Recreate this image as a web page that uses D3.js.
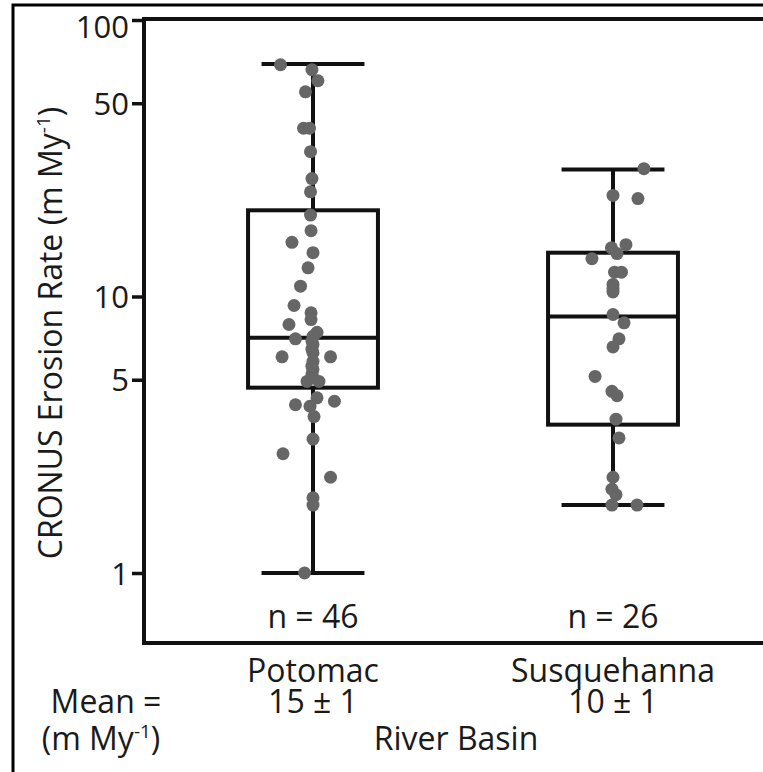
<!DOCTYPE html>
<html>
<head>
<meta charset="utf-8">
<script src="https://cdn.jsdelivr.net/npm/d3@7"></script>
<style>
  html, body { margin: 0; padding: 0; background: #ffffff; }
  svg { display: block; }
  text { font-family: "Open Sans", "Noto Sans", sans-serif; fill: #1a1a1a; }
</style>
</head>
<body>
<div id="chart"></div>
<script>
// ---- data ----
const categories = ["Potomac", "Susquehanna"];
const counts = [46, 26];
const means = [15, 10];
const meanErrors = [1, 1];
const whiskerLow = [1.0, 1.76];
const quartile1 = [4.68, 3.44];
const medians = [7.1, 8.47];
const quartile3 = [20.5, 14.4];
const whiskerHigh = [69.3, 28.8];
const yTicks = [1, 5, 10, 50, 100];

const potomacValues = [68.9, 66.1, 60.3, 55.0, 40.6, 40.6, 33.4, 26.7, 23.9, 19.7, 17.3, 15.7, 14.4, 12.7, 10.9, 9.28,
  8.73, 8.25, 7.92, 7.42, 7.03, 7.18, 6.9, 6.7, 6.45, 6.25, 6.05, 6.05, 5.83, 5.6, 5.44, 5.25, 5.08, 4.93, 4.93,
  4.30, 4.18, 4.06, 4.01, 3.68, 3.05, 2.70, 2.22, 1.87, 1.76, 1.0];
const potomacJitter = [-0.25, -0.008, 0.038, -0.058, -0.073, -0.027, -0.019, -0.008, -0.019, -0.019, -0.015, -0.162, 0, -0.038, -0.096, -0.146,
  -0.015, -0.015, -0.185, 0.031, -0.135, 0, -0.008, 0, -0.008, 0, -0.238, 0.135, 0, -0.008, 0, -0.008, 0, -0.046, 0.046,
  0.031, 0.165, -0.135, -0.023, 0.008, 0, -0.231, 0.135, 0, 0, -0.065];
const susquehannaValues = [29.0, 23.2, 22.6, 15.4, 15.0, 14.3, 13.7, 12.25, 12.25, 11.06, 10.7, 10.38, 8.61, 8.03, 7.03, 6.57,
  5.14, 4.54, 4.38, 3.60, 3.08, 2.22, 2.01, 1.92, 1.76, 1.76];
const susquehannaJitter = [0.238, 0, 0.192, 0.1, -0.012, 0.031, -0.162, 0.012, 0.065, 0, 0, 0, 0, 0.085, 0.046, 0,
  -0.138, -0.008, 0.031, 0.023, 0.046, 0, -0.008, 0.023, -0.008, 0.185];

// ---- layout ----
const W = 763, H = 772;
const plotLeft = 144, plotRight = 790, plotTop = 19, plotBottom = 643;
const svg = d3.select("#chart").append("svg").attr("width", W).attr("height", H);

svg.append("rect").attr("x", 0).attr("y", 0).attr("width", W).attr("height", H).attr("fill", "#ffffff");
// outer frame (extends beyond the picture on right and bottom)
svg.append("rect").attr("x", 13).attr("y", 5).attr("width", 900).attr("height", 900)
  .attr("fill", "none").attr("stroke", "#000").attr("stroke-width", 3);

const x = d3.scaleBand().domain(categories).range([163, 763]).padding(0);
const y = d3.scaleLog().domain([1, 100]).range([573, 20]);
const bw = x.bandwidth();
const cx = c => x(c) + bw / 2;
const boxW = bw * 0.433, capW = bw * 0.343;

// plot frame lines
const frame = svg.append("g").attr("stroke", "#111").attr("stroke-width", 4).attr("fill", "none");
frame.append("line").attr("x1", plotLeft).attr("x2", plotRight).attr("y1", plotTop).attr("y2", plotTop);
frame.append("line").attr("x1", plotLeft).attr("x2", plotLeft).attr("y1", plotTop - 2).attr("y2", plotBottom + 2);
frame.append("line").attr("x1", plotLeft - 2).attr("x2", plotRight).attr("y1", plotBottom).attr("y2", plotBottom);

// y axis ticks
const yAxis = d3.axisLeft(y).tickValues(yTicks).tickFormat(d3.format("d")).tickSize(12).tickPadding(3);
const ga = svg.append("g").attr("transform", `translate(${plotLeft},0)`).call(yAxis);
ga.select(".domain").remove();
ga.selectAll(".tick line").attr("stroke", "#111").attr("stroke-width", 3.5);
ga.selectAll(".tick text").attr("font-size", 31).attr("font-family", "Open Sans, sans-serif").attr("fill", "#1a1a1a")
  .attr("dy", d => d === 100 ? "0.55em" : "0.36em");

// y axis label
const yl = svg.append("text")
  .attr("transform", `translate(62, ${333}) rotate(-90)`)
  .attr("text-anchor", "middle").attr("font-size", 32);
yl.append("tspan").text("CRONUS Erosion Rate (m My");
yl.append("tspan").attr("font-size", 19).attr("dy", -12).text("-1");
yl.append("tspan").attr("dy", 12).text(")");

// boxes
const boxes = categories.map((c, i) => ({ c, lo: whiskerLow[i], q1: quartile1[i], med: medians[i], q3: quartile3[i], hi: whiskerHigh[i] }));
const bg = svg.append("g").attr("stroke", "#111").attr("stroke-width", 4).attr("fill", "none");
boxes.forEach(b => {
  const m = cx(b.c);
  bg.append("line").attr("x1", m).attr("x2", m).attr("y1", y(b.hi)).attr("y2", y(b.q3));
  bg.append("line").attr("x1", m).attr("x2", m).attr("y1", y(b.q1)).attr("y2", y(b.lo));
  bg.append("line").attr("x1", m - capW / 2).attr("x2", m + capW / 2).attr("y1", y(b.hi)).attr("y2", y(b.hi));
  bg.append("line").attr("x1", m - capW / 2).attr("x2", m + capW / 2).attr("y1", y(b.lo)).attr("y2", y(b.lo));
  bg.append("rect").attr("x", m - boxW / 2).attr("width", boxW).attr("y", y(b.q3)).attr("height", y(b.q1) - y(b.q3));
  bg.append("line").attr("x1", m - boxW / 2).attr("x2", m + boxW / 2).attr("y1", y(b.med)).attr("y2", y(b.med));
});

// points
const pts = [];
potomacValues.forEach((v, i) => pts.push({ c: "Potomac", v, j: potomacJitter[i] }));
susquehannaValues.forEach((v, i) => pts.push({ c: "Susquehanna", v, j: susquehannaJitter[i] }));
svg.append("g").selectAll("circle").data(pts).join("circle")
  .attr("cx", d => cx(d.c) + d.j * boxW)
  .attr("cy", d => y(d.v))
  .attr("r", 6.5)
  .attr("fill", "#666666");

// n labels, category names, means
categories.forEach((c, i) => {
  svg.append("text").attr("x", cx(c)).attr("y", 628).attr("text-anchor", "middle").attr("font-size", 32)
    .text(`n = ${counts[i]}`);
  svg.append("text").attr("x", cx(c)).attr("y", 682).attr("text-anchor", "middle").attr("font-size", 32)
    .text(c);
  svg.append("text").attr("x", cx(c)).attr("y", 713).attr("text-anchor", "middle").attr("font-size", 32)
    .text(`${means[i]} ± ${meanErrors[i]}`);
});

svg.append("text").attr("x", 106).attr("y", 713).attr("text-anchor", "middle").attr("font-size", 32).text("Mean =");
const mu = svg.append("text").attr("x", 101).attr("y", 750).attr("text-anchor", "middle").attr("font-size", 32);
mu.append("tspan").text("(m My");
mu.append("tspan").attr("font-size", 19).attr("dy", -12).text("-1");
mu.append("tspan").attr("dy", 12).text(")");

svg.append("text").attr("x", 456).attr("y", 750).attr("text-anchor", "middle").attr("font-size", 32).text("River Basin");
</script>
</body>
</html>
